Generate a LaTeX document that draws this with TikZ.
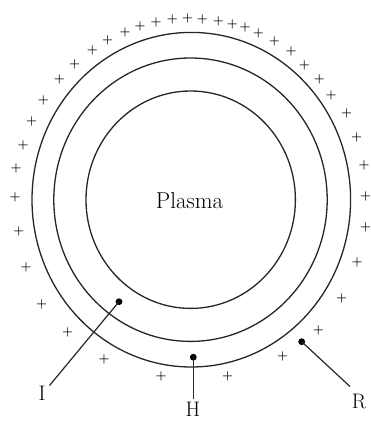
\documentclass[tikz,border=0pt]{standalone}
\begin{document}
\begin{tikzpicture}[x=1pt,y=-1pt,
  ring/.style={draw=black!85,line width=1.3pt},
  plus/.style={inner sep=0pt,font=\fontsize{12.5}{12.5}\selectfont\bfseries},
  lbl/.style={inner sep=0pt,font=\fontsize{21}{21}\selectfont},
  dot/.style={circle,fill=black,inner sep=0pt,minimum size=6.8pt},
  lead/.style={draw=black!85,line width=1.2pt}]
\useasboundingbox (0,0) rectangle (371,421);
\draw[ring] (191.3,199.7) ellipse [x radius=159.3, y radius=167.3];
\draw[ring] (190.5,199.7) ellipse [x radius=136.7, y radius=141.7];
\draw[ring] (190.7,199.7) ellipse [x radius=104.7, y radius=108.7];
\node[inner sep=0pt,font=\fontsize{23}{23}\selectfont] (plasma) at (189.5,200.5) {Plasma};
\foreach \px/\py [count=\i] in {125/32.3,140/26,156/22,172.3/19.3,187.7/18.3,202.3/19,218.3/21,232.3/24.3,245/27.3,258.3/33.3,274.3/41.7,291/51.7,304.3/65.7,319.3/79.3,331/95.3,346.7/113.3,356.7/137.3,364/165.7,365.7/196,365.5/227.5,357/262.8,341.7/298.3,318.3/330.7,282.7/356.7,227.5/376,161/376,104/359.3,67.5/332.7,41.7/304,26/267,18.8/231.3,15/197.5,16.2/168,23/145.5,31.7/121,43.3/100,59.3/79.3,74.7/64,92.3/50,107.7/40.7}
  \node[plus] (p\i) at (\px,\py) {+};
\node[dot] (dI) at (119,301.7) {};
\node[dot] (dH) at (193.3,357.2) {};
\node[dot] (dR) at (301.7,341.7) {};
\coordinate (cI) at (49.5,385.5);
\coordinate (cH) at (193.3,399);
\coordinate (cR) at (350,386.5);
\draw[lead] (dI.center) -- (cI);
\draw[lead,line width=1pt] (dH.center) -- (cH);
\draw[lead] (dR.center) -- (cR);
\node[lbl] (lI) at (42,393) {I};
\node[lbl] (lH) at (193,409.5) {H};
\node[lbl] (lR) at (359,401.5) {R};
\end{tikzpicture}
\end{document}
